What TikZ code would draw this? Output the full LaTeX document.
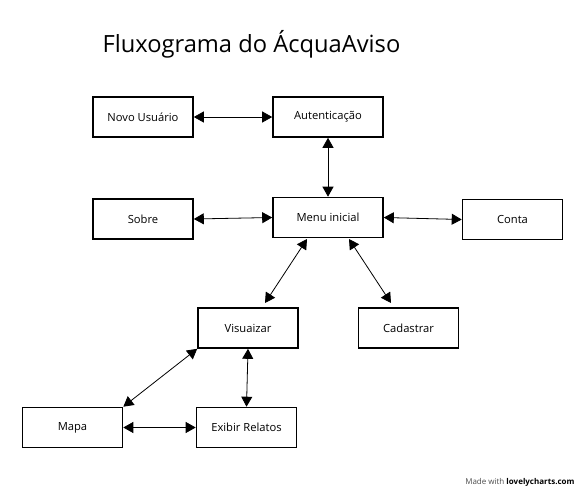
\documentclass[tikz,border=0pt]{standalone}
\usepackage{fontspec}
\setmainfont{Open Sans}
\usetikzlibrary{arrows.meta}
\begin{document}
\begin{tikzpicture}[x=1pt,y=-1pt,
  box/.style={draw=black,line width=1.6pt,minimum width=100pt,minimum height=40pt,inner sep=0pt,font=\fontsize{11.2}{13}\selectfont},
  link/.style={line width=0.8pt,{Triangle[length=10pt,width=11pt]}-{Triangle[length=10pt,width=11pt]}}]
\useasboundingbox (0,0) rectangle (585,490);
\node[anchor=base west,font=\fontsize{23.7}{28}\selectfont] (title) at (99,52) {Fluxograma do ÁcquaAviso};
\node[box] (novo) at (143,117) {Novo Usuário};
\node[box,minimum width=110pt] (aut) at (328,117) {Autenticação};
\node[box] (sobre) at (143,219) {Sobre};
\node[box,minimum width=110pt] (menu) at (328,217.5) {Menu inicial};
\node[box] (conta) at (512.5,219.5) {Conta};
\node[box] (vis) at (248,328) {Visuaizar};
\node[box] (cad) at (408.5,328) {Cadastrar};
\node[box] (mapa) at (72.5,427.5) {Mapa};
\node[box] (exi) at (246.5,427.5) {Exibir Relatos};
\coordinate (m1) at (307,239);
\coordinate (v1) at (265,303);
\coordinate (m2) at (349,239);
\coordinate (c1) at (391,303);
\draw[link] (novo.east) -- (aut.west);
\draw[link] (aut.south) -- (menu.north);
\draw[link] (sobre.east) -- (menu.west);
\draw[link] (menu.east) -- (conta.west);
\draw[link] (m1) -- (v1);
\draw[link] (m2) -- (c1);
\draw[link] (vis.south west) -- (mapa.north east);
\draw[link] (vis.south) -- (exi.north);
\draw[link] (mapa.east) -- (exi.west);
\node[anchor=base east,font=\fontsize{8}{10}\selectfont,text=black!70] (made) at (578,484) {Made with \textbf{\color{black}lovelycharts.com}};
\end{tikzpicture}
\end{document}
